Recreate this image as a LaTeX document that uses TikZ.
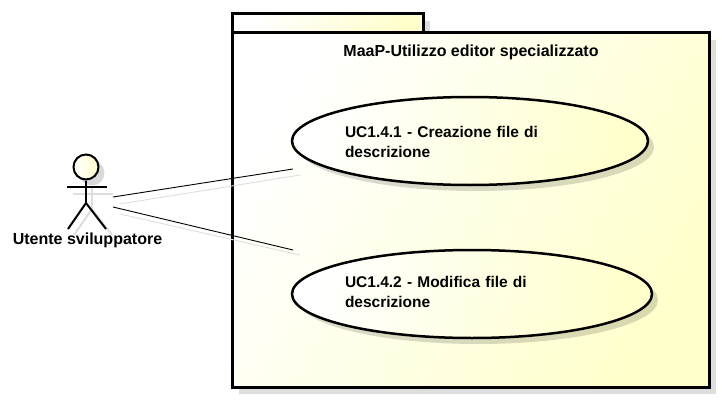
\documentclass[tikz,border=0pt]{standalone}
\usepackage{fontspec}
\setmainfont{Liberation Sans}
\usetikzlibrary{shapes.geometric, shadows}
\colorlet{umlY}{yellow!20!white}
\colorlet{umlS}{black!13}
\tikzstyle{pkg}=[draw=black, line width=3pt, left color=white, right color=umlY, shading angle=60,
	drop shadow={shadow xshift=7pt, shadow yshift=-7pt, fill=black, opacity=0.13}]
\tikzstyle{usecase}=[ellipse, draw=black, line width=2.5pt, inner sep=0pt, align=left, font=\fontsize{15.5}{20}\bfseries\selectfont,
	left color=white, right color=umlY, shading angle=75,
	drop shadow={shadow xshift=6pt, shadow yshift=-6pt, fill=black, opacity=0.15}]
\tikzstyle{label}=[font=\fontsize{16}{18}\bfseries\selectfont]
\tikzstyle{stick}=[draw=black, line width=2pt]
\tikzstyle{stickshadow}=[draw=umlS, line width=2pt]
\tikzstyle{assoc}=[draw=black, line width=0.9pt]
\tikzstyle{assocshadow}=[draw=umlS, line width=0.9pt]

\begin{document}
\begin{tikzpicture}[x=1pt, y=-1pt]
	\useasboundingbox (0,0) rectangle (722,401);

	% Package
	\path[pkg] (232,14) rectangle (423,33);
	\path[pkg] (232,33) rectangle (709,387);
	\node[label] (title) at (471,52) {MaaP-Utilizzo editor specializzato};

	% Actor shadow
	\draw[stickshadow] (92,186) -- (92,209);
	\draw[stickshadow] (73,194) -- (113,194);
	\draw[stickshadow] (92,209) -- (74,235);
	\draw[stickshadow] (92,209) -- (112,235);

	% Actor
	\node[circle, minimum size=25pt, inner sep=0pt, draw=black, line width=2pt, left color=white, right color=umlY,
		drop shadow={shadow xshift=6pt, shadow yshift=-6pt, fill=black, opacity=0.15}] (head) at (86,167) {};
	\coordinate (neck) at (86,203);
	\coordinate (handL) at (67,187);
	\coordinate (handR) at (107,187);
	\coordinate (footL) at (68,229);
	\coordinate (footR) at (106,229);
	\draw[stick] (head) -- (neck);
	\draw[stick] (handL) -- (handR);
	\draw[stick] (neck) -- (footL);
	\draw[stick] (neck) -- (footR);
	\node[label] (actor) at (87.5,240) {Utente sviluppatore};

	% Connectors
	\coordinate (a1) at (113,197);
	\coordinate (a2) at (113,207);
	\coordinate (b1) at (293,169);
	\coordinate (b2) at (293,250);
	\coordinate (a1s) at (120,204);
	\coordinate (a2s) at (120,214);
	\coordinate (b1s) at (300,175);
	\coordinate (b2s) at (300,255);
	\draw[assocshadow] (a1s) -- (b1s);
	\draw[assocshadow] (a2s) -- (b2s);
	\draw[assoc] (a1) -- (b1);
	\draw[assoc] (a2) -- (b2);

	% Use cases
	\node[usecase, minimum width=356pt, minimum height=88pt, text width=250pt] (uc1) at (470,141)
		{\rule{0pt}{13pt}UC1.4.1 - Creazione file di\\descrizione};
	\node[usecase, minimum width=360pt, minimum height=88pt, text width=254pt] (uc2) at (472,294)
		{UC1.4.2 - Modifica file di\\descrizione\rule[-4pt]{0pt}{4pt}};
\end{tikzpicture}
\end{document}
